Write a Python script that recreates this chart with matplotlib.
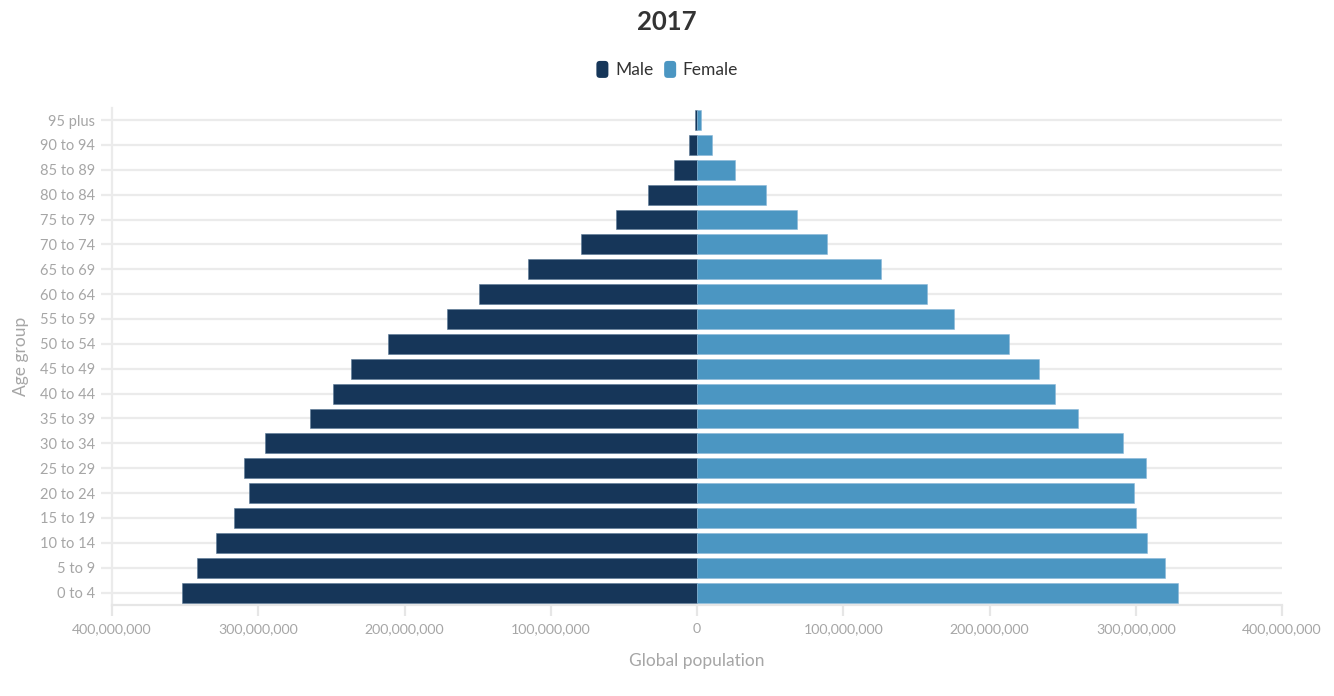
import matplotlib
matplotlib.use("Agg")
import matplotlib.pyplot as plt
from matplotlib.patches import Patch, FancyBboxPatch
from matplotlib.legend_handler import HandlerPatch
from matplotlib.ticker import FuncFormatter, MultipleLocator

age_groups = ["0 to 4", "5 to 9", "10 to 14", "15 to 19", "20 to 24", "25 to 29",
              "30 to 34", "35 to 39", "40 to 44", "45 to 49", "50 to 54", "55 to 59",
              "60 to 64", "65 to 69", "70 to 74", "75 to 79", "80 to 84", "85 to 89",
              "90 to 94", "95 plus"]
male = [352.2e6, 342.0e6, 329.0e6, 316.6e6, 306.4e6, 309.8e6, 295.4e6, 264.7e6,
        249.0e6, 236.9e6, 211.3e6, 171.0e6, 149.0e6, 115.6e6, 79.3e6, 55.4e6,
        33.5e6, 15.7e6, 5.2e6, 1.3e6]
female = [328.8e6, 319.7e6, 307.6e6, 300.4e6, 298.5e6, 306.7e6, 291.0e6, 260.5e6,
          244.5e6, 234.0e6, 213.0e6, 176.0e6, 157.0e6, 126.0e6, 89.0e6, 68.5e6,
          47.0e6, 26.0e6, 10.3e6, 2.8e6]
title = "2017"
x_label = "Global population"
y_label = "Age group"
male_color = "#163659"
female_color = "#4b96c2"

plt.rcParams['font.family'] = ['Lato', 'DejaVu Sans']


class RoundHandler(HandlerPatch):
    def create_artists(self, legend, orig_handle, xdescent, ydescent, width, height, fontsize, trans):
        w = 12 * 72 / 100.0
        h = 17 * 72 / 100.0
        x0 = -xdescent + (width - w) / 2
        y0 = -ydescent + (height - h) / 2
        p = FancyBboxPatch((x0 + 2, y0 + 2), w - 4, h - 4,
                           boxstyle="round,pad=2,rounding_size=2.5",
                           facecolor=orig_handle.get_facecolor(), edgecolor="none",
                           transform=trans)
        return [p]


fig = plt.figure(figsize=(13.34, 6.96), dpi=100)
ax = fig.add_axes([112/1334, 1-605/696, (1282-112)/1334, (605-107.6)/696])

y = list(range(len(age_groups)))
ax.barh(y, [-m for m in male], height=0.8, color=male_color, edgecolor="#5a7896", linewidth=0.4, zorder=3)
ax.barh(y, female, height=0.8, color=female_color, edgecolor="#8ab8d8", linewidth=0.4, zorder=3)

ax.set_xlim(-400e6, 400e6)
ax.set_ylim(-0.5, len(age_groups)-0.5)
ax.set_yticks(y)
ax.set_yticklabels(age_groups)
ax.xaxis.set_major_locator(MultipleLocator(100e6))
ax.xaxis.set_major_formatter(FuncFormatter(lambda v, p: f"{abs(int(round(v))):,}"))

ax.grid(axis='y', color="#ebebeb", linewidth=1.6, zorder=0)
ax.grid(axis='x', visible=False)
for s in ["top", "right"]:
    ax.spines[s].set_visible(False)
ax.spines["left"].set_color("#ebebeb")
ax.spines["left"].set_linewidth(1.6)
ax.spines["bottom"].set_color("#e6e6e6")
ax.spines["bottom"].set_linewidth(1.6)
ax.tick_params(axis='x', colors="#e6e6e6", length=8, width=1.6, labelcolor="#a6a6a6",
               labelsize=10.2, pad=5)
ax.tick_params(axis='y', colors="#ebebeb", length=8, width=1.6, labelcolor="#a6a6a6",
               labelsize=10.5, pad=4)

ax.set_xlabel(x_label, color="#a6a6a6", fontsize=12.5, labelpad=13)
ax.set_ylabel(y_label, color="#a6a6a6", fontsize=12.5, labelpad=8)

fig.text(0.5, 1-22/696, title, ha="center", va="center", fontsize=18.5, fontweight="bold", color="#333333")

handles = [Patch(facecolor=male_color), Patch(facecolor=female_color)]
fig.legend(handles, ["Male", "Female"], loc="center", bbox_to_anchor=(0.5, 1-70/696), ncol=2,
           frameon=False, fontsize=12.5, handletextpad=0.35, columnspacing=0.6, labelcolor="#333333",
           handlelength=0.75, handleheight=1.0,
           handler_map={Patch: RoundHandler()})

fig.savefig("out.png", dpi=100, facecolor="white")
